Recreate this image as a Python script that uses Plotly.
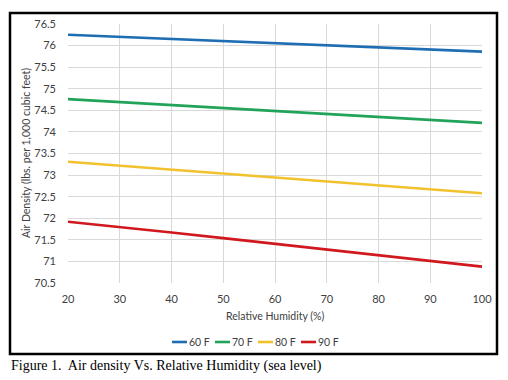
import plotly.graph_objects as go

humidity = [20, 30, 40, 50, 60, 70, 80, 90, 100]
density_60f = [76.25, 76.20, 76.16, 76.11, 76.06, 76.01, 75.96, 75.91, 75.86]
density_70f = [74.76, 74.69, 74.62, 74.55, 74.48, 74.42, 74.35, 74.28, 74.21]
density_80f = [73.31, 73.22, 73.13, 73.04, 72.95, 72.86, 72.77, 72.67, 72.58]
density_90f = [71.92, 71.80, 71.67, 71.54, 71.41, 71.28, 71.15, 71.02, 70.88]
series_names = ["60 F", "70 F", "80 F", "90 F"]
colors = ["#1f6eb3", "#22a35a", "#f2c12e", "#d0181e"]

OFF = 8  # page body margin
W, H = 508 - OFF, 380 - OFF
# desired page-pixel plot area: x 68..482, y 24..283
L, R, T, B = 68 - OFF, 508 - 482, 24 - OFF, 380 - 283
pw, ph = W - L - R, H - T - B

def px(x):
    return (x - OFF - L) / pw

def py(y):
    return (H - B - (y - OFF)) / ph

fig = go.Figure()
all_series = [density_60f, density_70f, density_80f, density_90f]
for name, ys, c in zip(series_names, all_series, colors):
    fig.add_trace(go.Scatter(x=humidity, y=ys, mode="lines", name=name,
                             line=dict(color=c, width=2.6), showlegend=False))

font_family = "Lato, 'Open Sans', sans-serif"
txt_color = "#404040"

shapes = [dict(type="rect", xref="paper", yref="paper",
               x0=px(10), x1=px(497), y0=py(354), y1=py(13),
               line=dict(color="black", width=2.5), fillcolor="rgba(0,0,0,0)", layer="below")]
annotations = [
    dict(text="Relative Humidity (%)", xref="paper", yref="paper", x=0.5, y=py(316),
         xanchor="center", yanchor="middle", showarrow=False,
         font=dict(size=10.5, color=txt_color)),
    dict(text="Air Density (lbs. per 1,000 cubic feet)", xref="paper", yref="paper",
         x=px(25.5), y=0.5, xanchor="center", yanchor="middle", textangle=-90,
         showarrow=False, font=dict(size=10.5, color=txt_color)),
    dict(text="Figure 1.  Air density Vs. Relative Humidity (sea level)", xref="paper",
         yref="paper", x=px(9), y=py(366), xanchor="left", yanchor="middle",
         showarrow=False, font=dict(family="'Liberation Serif', 'Times New Roman', serif",
                                    size=14, color="black")),
]

# custom compact legend
leg_y = 342
leg_x0 = 172
leg_pitch = 43
for i, (name, c) in enumerate(zip(series_names, colors)):
    x0 = leg_x0 + i * leg_pitch
    shapes.append(dict(type="line", xref="paper", yref="paper",
                       x0=px(x0), x1=px(x0 + 15), y0=py(leg_y), y1=py(leg_y),
                       line=dict(color=c, width=2.6)))
    annotations.append(dict(text=name, xref="paper", yref="paper", x=px(x0 + 15), y=py(leg_y),
                            xanchor="left", yanchor="middle", showarrow=False,
                            font=dict(size=10.5, color=txt_color)))

fig.update_layout(
    width=W, height=H,
    margin=dict(l=L, r=R, t=T, b=B, autoexpand=False),
    paper_bgcolor="white", plot_bgcolor="white",
    font=dict(family=font_family, size=11, color=txt_color),
    xaxis=dict(range=[20, 100], dtick=10, showgrid=True, gridcolor="#d9d9d9", gridwidth=1,
               zeroline=False, showline=False, ticks="", ticklabelstandoff=8,
               tickfont=dict(size=11, color=txt_color)),
    yaxis=dict(range=[70.5, 76.5], dtick=0.5, showgrid=True, gridcolor="#d9d9d9", gridwidth=1,
               zeroline=False, showline=False, ticks="", ticklabelstandoff=11,
               tickfont=dict(size=11, color=txt_color)),
    showlegend=False,
    shapes=shapes,
    annotations=annotations,
)

fig.write_html("out.html")
